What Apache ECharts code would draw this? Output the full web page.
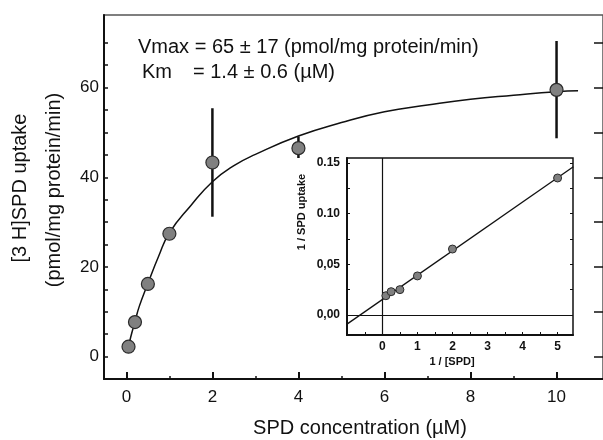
<!DOCTYPE html>
<html>
<head>
<meta charset="utf-8">
<script src="https://cdn.jsdelivr.net/npm/echarts@6/dist/echarts.min.js"></script>
<style>
html, body { margin: 0; padding: 0; background: #fff; }
#chart { width: 603px; height: 440px; }
</style>
</head>
<body>
<div id="chart"></div>
<script>
// main plot: SPD uptake vs concentration
var spdConc = [0.05, 0.2, 0.5, 1, 2, 4, 10];
var spdUptake = [2.2, 7.7, 16.2, 27.4, 43.3, 46.5, 59.5];
var errConc = [2, 4, 10];
var errLow = [31.2, 44.3, 48.7];
var errHigh = [55.4, 49.1, 70.4];
// fitted curve
var curveX = [0.05, 0.1, 0.2, 0.3, 0.5, 0.75, 1, 1.5, 2, 2.5, 3, 4, 5, 6, 7, 8, 9, 10, 10.5];
var curveY = [2.2, 4.3, 7.8, 11.2, 16.3, 22.4, 27.6, 33.7, 39.0, 42.6, 45.1, 49.2, 52.2, 54.6, 56.1, 57.4, 58.3, 59.1, 59.3];
var mainXTicks = [0, 2, 4, 6, 8, 10];
var mainXMinor = [1, 3, 5, 7, 9];
var mainYTicks = [0, 20, 40, 60];
var mainYMinor = [0, 5, 10, 15, 20, 25, 30, 35, 40, 45, 50, 55, 60, 65, 70];
var mainYRight = [0, 10, 20, 30, 40, 50, 60, 70];

// inset: double reciprocal plot
var invConc = [0.1, 0.25, 0.5, 1, 2, 5];
var invUptake = [0.019, 0.023, 0.025, 0.0385, 0.065, 0.135];
var lineX = [-1.01, 5.45];
var lineY = [-0.009, 0.146];
var insetXTicks = [0, 1, 2, 3, 4, 5];
var insetXMinor = [-0.5, 0, 0.5, 1, 1.5, 2, 2.5, 3, 3.5, 4, 4.5, 5];
var insetYTicks = [0, 0.05, 0.1, 0.15];
var insetYLabels = ['0,00', '0,05', '0.10', '0.15'];
var insetYMinor = [0, 0.025, 0.05, 0.075, 0.1, 0.125, 0.15];

var FONT = 'Liberation Sans, Arial, sans-serif';

function zip(a, b) {
	var out = [];
	for (var i = 0; i < a.length; i++) out.push([a[i], b[i]]);
	return out;
}

// axis that only draws inside ticks
function tickAxis(grid, min, max, pos, values, len, width) {
	return {
		gridIndex: grid, type: 'value', min: min, max: max, position: pos,
		axisLine: { show: false, onZero: false },
		axisTick: { show: true, inside: true, length: len, customValues: values, lineStyle: { color: '#111', width: width } },
		axisLabel: { show: false },
		splitLine: { show: false }
	};
}

var chart = echarts.init(document.getElementById('chart'), null, { renderer: 'canvas' });

var option = {
	animation: false,
	backgroundColor: '#fff',
	grid: [{
		left: 104, top: 15, width: 504, height: 364,
		show: true, borderColor: '#555', borderWidth: 1.5
	}, {
		left: 347, top: 158, width: 226, height: 177,
		show: true, borderColor: '#111', borderWidth: 1.5, backgroundColor: '#fff'
	}],
	xAxis: [{
		gridIndex: 0, type: 'value', min: -0.52, max: 11.08,
		axisLine: { show: true, onZero: false, lineStyle: { color: '#111', width: 2 } },
		axisTick: { show: false },
		axisLabel: { customValues: mainXTicks, margin: 10, fontSize: 17, color: '#111', fontFamily: FONT },
		splitLine: { show: false }
	},
		tickAxis(0, -0.52, 11.08, 'bottom', mainXTicks, 7, 2),
		tickAxis(0, -0.52, 11.08, 'bottom', mainXMinor, 3, 1.5),
	{
		gridIndex: 1, type: 'value', min: -1.01, max: 5.44,
		axisLine: { show: true, onZero: false, lineStyle: { color: '#111', width: 2 } },
		axisTick: { show: false },
		axisLabel: { customValues: insetXTicks, margin: 6, fontSize: 12, fontWeight: 'bold', color: '#111', fontFamily: FONT },
		splitLine: { show: false }
	},
		tickAxis(1, -1.01, 5.44, 'bottom', insetXMinor, 3, 1)
	],
	yAxis: [{
		gridIndex: 0, type: 'value', min: -5, max: 76.2,
		axisLine: { show: true, onZero: false, lineStyle: { color: '#111', width: 2 } },
		axisTick: { show: false },
		axisLabel: { customValues: mainYTicks, margin: 5, fontSize: 17, color: '#111', fontFamily: FONT },
		splitLine: { show: false }
	},
		tickAxis(0, -5, 76.2, 'left', mainYMinor, 4, 1.5),
		tickAxis(0, -5, 76.2, 'right', mainYRight, 9, 1.5),
	{
		gridIndex: 1, type: 'value', min: -0.0197, max: 0.1547,
		axisLine: { show: true, onZero: false, lineStyle: { color: '#111', width: 2 } },
		axisTick: { show: false },
		axisLabel: {
			customValues: insetYTicks, margin: 7, fontSize: 12, fontWeight: 'bold', color: '#111', fontFamily: FONT,
			formatter: function(v) {
				for (var i = 0; i < insetYTicks.length; i++) {
					if (Math.abs(insetYTicks[i] - v) < 1e-6) return insetYLabels[i];
				}
				return '';
			}
		},
		splitLine: { show: false }
	},
		tickAxis(1, -0.0197, 0.1547, 'left', insetYMinor, 3, 1),
		tickAxis(1, -0.0197, 0.1547, 'right', insetYMinor, 3, 1)
	],
	series: [{
		name: 'fit',
		type: 'line',
		xAxisIndex: 0, yAxisIndex: 0,
		data: zip(curveX, curveY),
		smooth: true,
		showSymbol: false,
		lineStyle: { color: '#111', width: 1.5 },
		z: 2
	}, {
		name: 'error',
		type: 'custom',
		xAxisIndex: 0, yAxisIndex: 0,
		data: errConc.map(function(x, i) { return [x, errLow[i], errHigh[i]]; }),
		renderItem: function(params, api) {
			var lo = api.coord([api.value(0), api.value(1)]);
			var hi = api.coord([api.value(0), api.value(2)]);
			return {
				type: 'line',
				shape: { x1: lo[0], y1: lo[1], x2: hi[0], y2: hi[1] },
				style: { stroke: '#111', lineWidth: 2.5 }
			};
		},
		z: 3
	}, {
		name: 'uptake',
		type: 'scatter',
		xAxisIndex: 0, yAxisIndex: 0,
		data: zip(spdConc, spdUptake),
		symbolSize: 13,
		itemStyle: { color: '#808080', borderColor: '#2a2a2a', borderWidth: 1.2, opacity: 1 },
		z: 4
	}, {
		name: 'inv fit',
		type: 'line',
		xAxisIndex: 3, yAxisIndex: 3,
		data: zip(lineX, lineY),
		showSymbol: false,
		lineStyle: { color: '#111', width: 1.3 },
		markLine: {
			silent: true,
			symbol: 'none',
			label: { show: false },
			lineStyle: { color: '#111', width: 1.2, type: 'solid' },
			data: [{ xAxis: 0 }, { yAxis: 0 }]
		},
		z: 5
	}, {
		name: 'inv uptake',
		type: 'scatter',
		xAxisIndex: 3, yAxisIndex: 3,
		data: zip(invConc, invUptake),
		symbolSize: 8,
		itemStyle: { color: '#808080', borderColor: '#2a2a2a', borderWidth: 1, opacity: 1 },
		z: 6
	}],
	graphic: [{
		type: 'text', left: 138, top: 37,
		style: { text: 'Vmax = 65 ± 17 (pmol/mg protein/min)', font: '20px ' + FONT, fill: '#111' }
	}, {
		type: 'text', left: 142, top: 62,
		style: { text: 'Km', font: '20px ' + FONT, fill: '#111' }
	}, {
		type: 'text', left: 193, top: 62,
		style: { text: '= 1.4 ± 0.6 (µM)', font: '20px ' + FONT, fill: '#111' }
	}, {
		type: 'text', x: 20, y: 188, rotation: Math.PI / 2,
		style: { text: '[3 H]SPD uptake', font: '20px ' + FONT, fill: '#111', textAlign: 'center', textVerticalAlign: 'middle' }
	}, {
		type: 'text', x: 54, y: 190, rotation: Math.PI / 2,
		style: { text: '(pmol/mg protein/min)', font: '20px ' + FONT, fill: '#111', textAlign: 'center', textVerticalAlign: 'middle' }
	}, {
		type: 'text', x: 360, y: 428,
		style: { text: 'SPD concentration (µM)', font: '20px ' + FONT, fill: '#111', textAlign: 'center', textVerticalAlign: 'middle' }
	}, {
		type: 'text', x: 302, y: 212, rotation: Math.PI / 2,
		style: { text: '1 / SPD uptake', font: 'bold 11px ' + FONT, fill: '#111', textAlign: 'center', textVerticalAlign: 'middle' }
	}, {
		type: 'text', x: 452, y: 362,
		style: { text: '1 / [SPD]', font: 'bold 11px ' + FONT, fill: '#111', textAlign: 'center', textVerticalAlign: 'middle' }
	}]
};
chart.setOption(option);
</script>
</body>
</html>
